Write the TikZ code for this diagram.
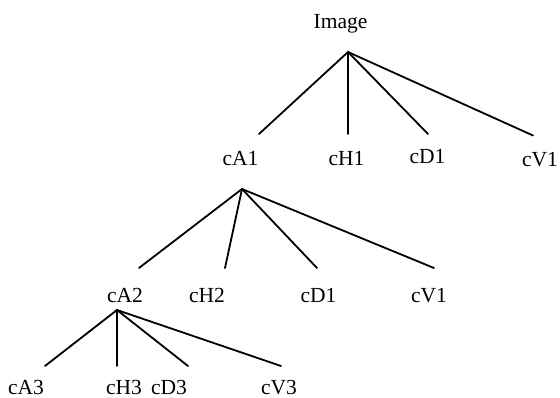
\documentclass[tikz,border=0pt]{standalone}
\usepackage{fontspec}
\setmainfont{Liberation Serif}
\begin{document}
\begin{tikzpicture}[x=1pt,y=-1pt,
  lbl/.style={anchor=base,inner sep=0pt,font=\fontsize{21.5pt}{24pt}\selectfont},
  edge/.style={draw=black,line width=1.8pt,line cap=round}]
\useasboundingbox (0,0) rectangle (560,398);
% labels
\node[lbl] (img) at (340.5,29) {Image};
\node[lbl] (cA1) at (240.5,166) {cA1};
\node[lbl] (cH1) at (346.5,166) {cH1};
\node[lbl] (cD1) at (427.5,164) {cD1};
\node[lbl] (cV1) at (540,167) {cV1};
\node[lbl] (cA2) at (125,302) {cA2};
\node[lbl] (cH2) at (207,302) {cH2};
\node[lbl] (cD1b) at (318.5,302) {cD1};
\node[lbl] (cV1b) at (429,302) {cV1};
\node[lbl] (cA3) at (26,394) {cA3};
\node[lbl] (cH3) at (124,394) {cH3};
\node[lbl] (cD3) at (169,394) {cD3};
\node[lbl] (cV3) at (279,394) {cV3};
% apexes and ends
\coordinate (p0) at (348,52);
\coordinate (e1a) at (259,134);
\coordinate (e1h) at (348,134);
\coordinate (e1d) at (428,134);
\coordinate (e1v) at (533,135.5);
\coordinate (p1) at (242,189);
\coordinate (e2a) at (139,268);
\coordinate (e2h) at (225,268);
\coordinate (e2d) at (317,268);
\coordinate (e2v) at (434,268);
\coordinate (p2) at (117,310);
\coordinate (e3a) at (45,366);
\coordinate (e3h) at (117,366);
\coordinate (e3d) at (188,366);
\coordinate (e3v) at (281,366);
\foreach \e in {e1a,e1h,e1d,e1v} \draw[edge] (p0) -- (\e);
\foreach \e in {e2a,e2h,e2d,e2v} \draw[edge] (p1) -- (\e);
\foreach \e in {e3a,e3h,e3d,e3v} \draw[edge] (p2) -- (\e);
\end{tikzpicture}
\end{document}
